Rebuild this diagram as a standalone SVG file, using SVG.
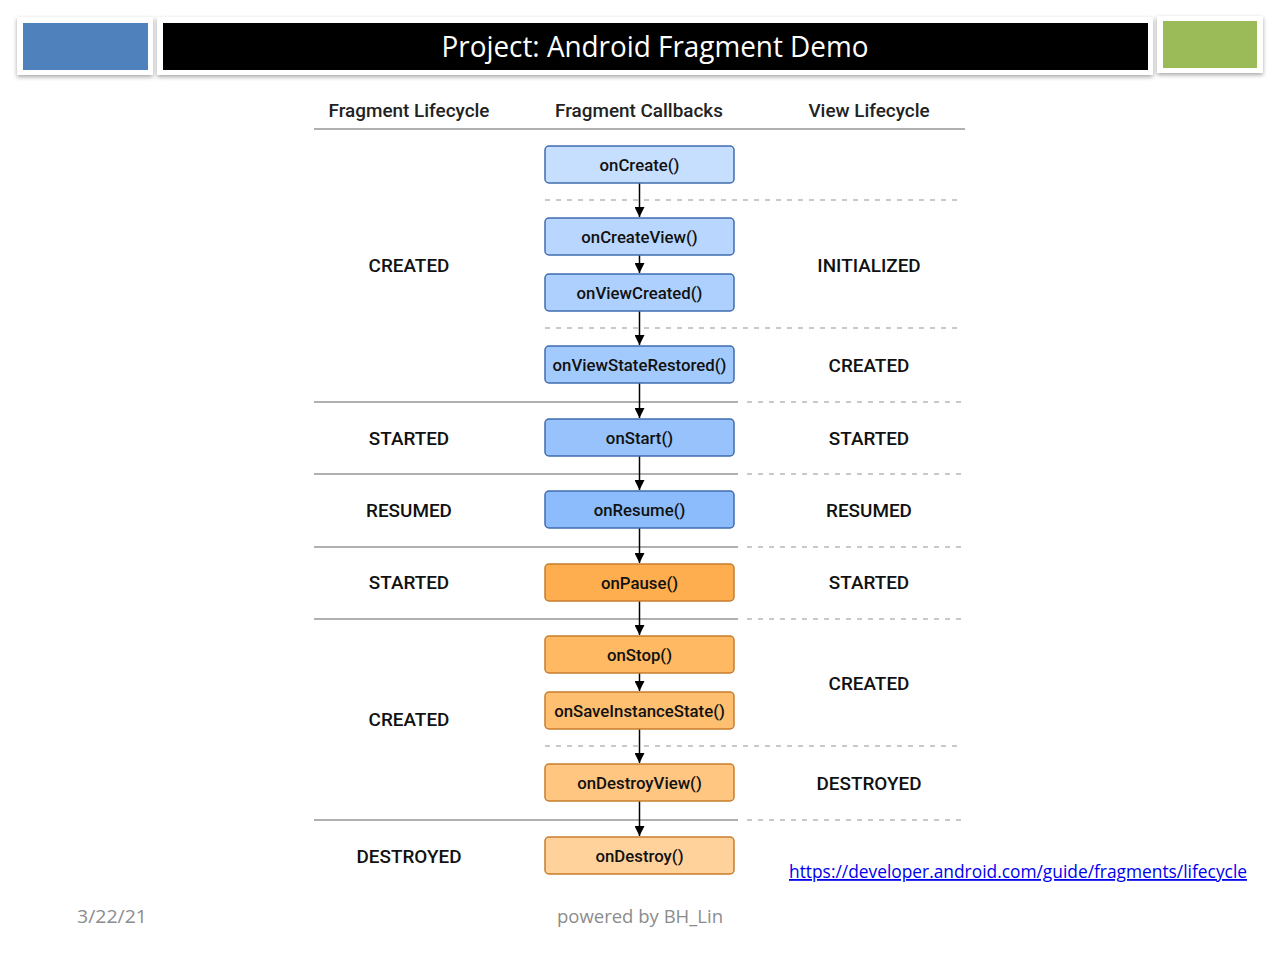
<svg xmlns="http://www.w3.org/2000/svg" width="1280" height="960" viewBox="0 0 1280 960">
<style>
.frame{fill:#fff;filter:url(#sh)}
.hdr{font-family:Roboto,"Liberation Sans",sans-serif;font-size:18.9px;font-weight:500;fill:#222;text-anchor:middle}
.st{font-family:Roboto,"Liberation Sans",sans-serif;font-size:18.9px;font-weight:500;fill:#111;text-anchor:middle}
.nt{font-family:Roboto,"Liberation Sans",sans-serif;font-size:16.8px;font-weight:500;fill:#111;text-anchor:middle}
.b{stroke:#3f6cb0;stroke-width:1.5}
.o{stroke:#c77d2c;stroke-width:1.5}
.solid{stroke:#b0b0b0;stroke-width:2}
.dash{stroke:#b8b8b8;stroke-width:1.5;stroke-dasharray:5 6}
.conn{stroke:#000;stroke-width:1.5;fill:none;marker-end:url(#ah)}
.foot{font-family:"Open Sans","Noto Sans",sans-serif;font-size:18px;fill:#8c8c8c}
</style>
<defs>
<filter id="sh" x="-10%" y="-20%" width="120%" height="150%">
<feDropShadow dx="0" dy="2" stdDeviation="2" flood-color="#000" flood-opacity="0.35"/>
</filter>
<marker id="ah" markerWidth="10" markerHeight="10" refX="10" refY="5" orient="auto" markerUnits="userSpaceOnUse">
<path d="M0,0 L10,5 L0,10 Z" fill="#000"/>
</marker>
</defs>
<rect width="1280" height="960" fill="#fff"/>
<g id="header">
<rect class="frame" x="17" y="17" width="136" height="58"/>
<rect x="23" y="23" width="125" height="47" fill="#4f81bd"/>
<rect class="frame" x="157" y="17" width="996" height="58"/>
<rect x="163" y="23" width="985" height="47" fill="#000"/>
<rect class="frame" x="1157" y="16" width="106" height="57"/>
<rect x="1163" y="21" width="94" height="47" fill="#9bbb59"/>
<text x="655" y="57" text-anchor="middle" font-family="'Open Sans','Noto Sans',sans-serif" font-size="29" fill="#fff" textLength="427" lengthAdjust="spacingAndGlyphs">Project: Android Fragment Demo</text>
</g>
<g id="columns">
<text class="hdr" x="409" y="117">Fragment Lifecycle</text>
<text class="hdr" x="639" y="117">Fragment Callbacks</text>
<text class="hdr" x="869" y="117">View Lifecycle</text>
<line class="solid" x1="314" y1="129" x2="965" y2="129"/>
</g>
<g id="dividers">
<line class="dash" x1="545" y1="200" x2="962" y2="200"/>
<line class="dash" x1="545" y1="328" x2="962" y2="328"/>
<line class="solid" x1="314" y1="402" x2="738" y2="402"/>
<line class="dash" x1="747" y1="402" x2="962" y2="402"/>
<line class="solid" x1="314" y1="474" x2="738" y2="474"/>
<line class="dash" x1="747" y1="474" x2="962" y2="474"/>
<line class="solid" x1="314" y1="547" x2="738" y2="547"/>
<line class="dash" x1="747" y1="547" x2="962" y2="547"/>
<line class="solid" x1="314" y1="619" x2="738" y2="619"/>
<line class="dash" x1="747" y1="619" x2="962" y2="619"/>
<line class="dash" x1="545" y1="746" x2="962" y2="746"/>
<line class="solid" x1="314" y1="820" x2="738" y2="820"/>
<line class="dash" x1="747" y1="820" x2="962" y2="820"/>
</g>
<g id="fragment-states">
<text class="st" x="409" y="272">CREATED</text>
<text class="st" x="409" y="445">STARTED</text>
<text class="st" x="409" y="517">RESUMED</text>
<text class="st" x="409" y="589">STARTED</text>
<text class="st" x="409" y="726">CREATED</text>
<text class="st" x="409" y="863">DESTROYED</text>
</g>
<g id="view-states">
<text class="st" x="869" y="272">INITIALIZED</text>
<text class="st" x="869" y="372">CREATED</text>
<text class="st" x="869" y="445">STARTED</text>
<text class="st" x="869" y="517">RESUMED</text>
<text class="st" x="869" y="589">STARTED</text>
<text class="st" x="869" y="690">CREATED</text>
<text class="st" x="869" y="790">DESTROYED</text>
</g>
<g id="connectors">
<line class="conn" x1="639.5" y1="183" x2="639.5" y2="217"/>
<line class="conn" x1="639.5" y1="255" x2="639.5" y2="273"/>
<line class="conn" x1="639.5" y1="311" x2="639.5" y2="345"/>
<line class="conn" x1="639.5" y1="383" x2="639.5" y2="418"/>
<line class="conn" x1="639.5" y1="456" x2="639.5" y2="490"/>
<line class="conn" x1="639.5" y1="528" x2="639.5" y2="563"/>
<line class="conn" x1="639.5" y1="601" x2="639.5" y2="635"/>
<line class="conn" x1="639.5" y1="673" x2="639.5" y2="691"/>
<line class="conn" x1="639.5" y1="729" x2="639.5" y2="763"/>
<line class="conn" x1="639.5" y1="801" x2="639.5" y2="836"/>
</g>
<g id="onCreate"><rect class="b" x="545" y="146" width="189" height="37" rx="4" fill="#c6dfff"/><text class="nt" x="639.5" y="171">onCreate()</text></g>
<g id="onCreateView"><rect class="b" x="545" y="218" width="189" height="37" rx="4" fill="#b9d7fe"/><text class="nt" x="639.5" y="243">onCreateView()</text></g>
<g id="onViewCreated"><rect class="b" x="545" y="274" width="189" height="37" rx="4" fill="#add0fe"/><text class="nt" x="639.5" y="299">onViewCreated()</text></g>
<g id="onViewStateRestored"><rect class="b" x="545" y="346" width="189" height="37" rx="4" fill="#a3cafd"/><text class="nt" x="639.5" y="371">onViewStateRestored()</text></g>
<g id="onStart"><rect class="b" x="545" y="419" width="189" height="37" rx="4" fill="#97c2fc"/><text class="nt" x="639.5" y="444">onStart()</text></g>
<g id="onResume"><rect class="b" x="545" y="491" width="189" height="37" rx="4" fill="#8cbcfc"/><text class="nt" x="639.5" y="516">onResume()</text></g>
<g id="onPause"><rect class="o" x="545" y="564" width="189" height="37" rx="4" fill="#ffae4f"/><text class="nt" x="639.5" y="589">onPause()</text></g>
<g id="onStop"><rect class="o" x="545" y="636" width="189" height="37" rx="4" fill="#ffb962"/><text class="nt" x="639.5" y="661">onStop()</text></g>
<g id="onSaveInstanceState"><rect class="o" x="545" y="692" width="189" height="37" rx="4" fill="#ffbf70"/><text class="nt" x="639.5" y="717">onSaveInstanceState()</text></g>
<g id="onDestroyView"><rect class="o" x="545" y="764" width="189" height="37" rx="4" fill="#ffc682"/><text class="nt" x="639.5" y="789">onDestroyView()</text></g>
<g id="onDestroy"><rect class="o" x="545" y="837" width="189" height="37" rx="4" fill="#ffd29b"/><text class="nt" x="639.5" y="862">onDestroy()</text></g>
<g id="footer">
<text x="789" y="878" font-family="'Open Sans','Noto Sans',sans-serif" font-size="18" fill="#0000ee" text-decoration="underline" textLength="458" lengthAdjust="spacingAndGlyphs">https://developer.android.com/guide/fragments/lifecycle</text>
<text class="foot" x="77" y="923" textLength="70" lengthAdjust="spacingAndGlyphs">3/22/21</text>
<text class="foot" x="557" y="923" textLength="166" lengthAdjust="spacingAndGlyphs">powered by BH_Lin</text>
</g>
</svg>
